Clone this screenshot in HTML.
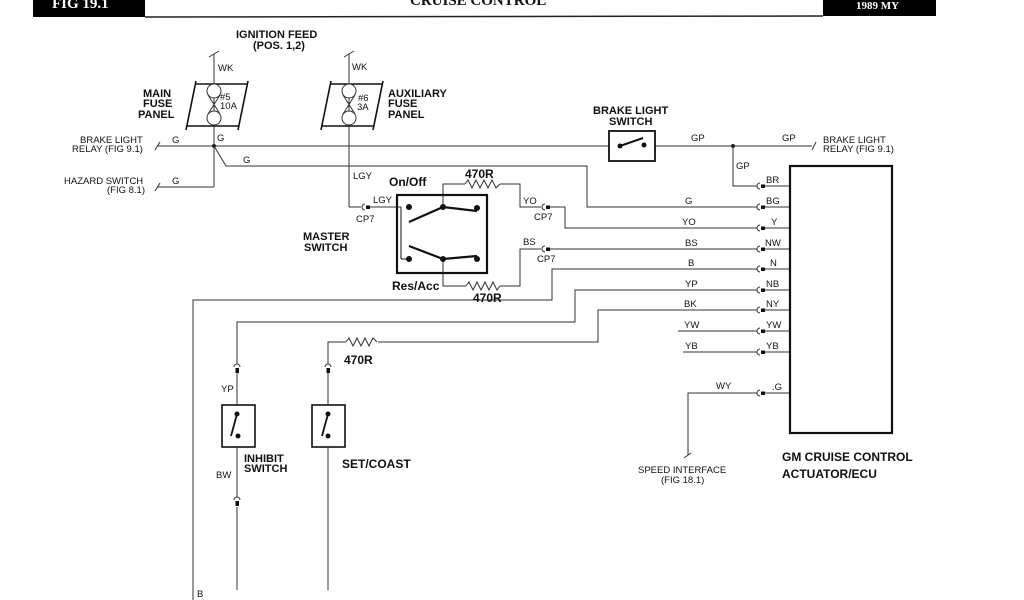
<!DOCTYPE html>
<html><head><meta charset="utf-8"><style>
html,body{margin:0;padding:0;background:#fff;width:1024px;height:600px;overflow:hidden}
svg{display:block}
text{font-family:"Liberation Sans",Arial,sans-serif;fill:#111}
.s{font-size:9.5px}
.b{font-size:11px;font-weight:bold}
.c{font-family:"Liberation Sans",sans-serif;font-weight:bold;font-size:12px}
</style></head><body>
<svg width="1024" height="600" viewBox="0 0 1024 600" xmlns="http://www.w3.org/2000/svg">
<g stroke="#222" fill="none" stroke-width="1.1">
<rect x="33" y="-2" width="112" height="19" fill="#000" stroke="none"/>
<rect x="823" y="-2" width="113" height="18" fill="#000" stroke="none"/>
<line x1="145" y1="17" x2="823" y2="16" stroke-width="1.5"/>
</g>
<text x="52" y="8" style="fill:#fff;font-size:15px;font-weight:bold;font-family:'Liberation Serif',serif">FIG 19.1</text>
<text x="410" y="5" style="font-size:15px;font-weight:bold;font-family:'Liberation Serif',serif">CRUISE CONTROL</text>
<text x="856" y="9" style="fill:#fff;font-size:11px;font-weight:bold;font-family:'Liberation Serif',serif">1989 MY</text>

<g stroke="#333" fill="none" stroke-width="1">
<line x1="214" y1="54" x2="214" y2="187"/><line x1="209" y1="57" x2="219" y2="51"/>
<line x1="349" y1="54" x2="349" y2="207"/><line x1="344" y1="57" x2="354" y2="51"/>
<g stroke="#111" stroke-width="1.6">
<line x1="195" y1="84" x2="248" y2="84"/><line x1="186" y1="126" x2="239" y2="126"/>
<line x1="196" y1="81" x2="186" y2="130"/><line x1="248" y1="81" x2="238" y2="130"/>
<line x1="330" y1="84" x2="383" y2="84"/><line x1="321" y1="126" x2="374" y2="126"/>
<line x1="331" y1="81" x2="321" y2="130"/><line x1="383" y1="81" x2="373" y2="130"/>
</g>
<circle cx="214" cy="91" r="7" fill="#fff"/><circle cx="214" cy="118" r="7" fill="#fff"/>
<path d="M208 95 L220 114 M220 95 L208 114"/>
<circle cx="349" cy="91" r="7" fill="#fff"/><circle cx="349" cy="118" r="7" fill="#fff"/>
<path d="M343 95 L355 114 M355 95 L343 114"/>
<line x1="157" y1="146" x2="609" y2="146"/><line x1="155" y1="150" x2="160" y2="142"/>
<line x1="655" y1="146" x2="812" y2="146"/><line x1="812" y1="150" x2="816" y2="142"/>
<circle cx="214" cy="146" r="1.6" fill="#111"/><circle cx="733" cy="146" r="1.6" fill="#111"/>
<line x1="157" y1="187" x2="214" y2="187"/><line x1="155" y1="191" x2="160" y2="183"/>
<path d="M214 146 L226 166 L587 166 L587 207 L757 207"/>
<path d="M733 146 L733 186 L757 186"/>
<path d="M349 207 L361 207"/>
<line x1="366" y1="207" x2="401" y2="207"/>
<path d="M443 207 L443 184 L465 184 M500 184 L520 184 L520 207 L541 207"/>
<path d="M549 207 L565 207 L565 228 L757 228"/>
<path d="M443 259 L443 286 L466 286 M500 286 L520 286 L520 249 L541 249"/>
<path d="M549 249 L757 249"/>
<path d="M465 184 l3 -4 l4 8 l4 -8 l4 8 l4 -8 l4 8 l4 -8 l4 8 l4 -4"/>
<path d="M466 286 l3 -4 l4 8 l4 -8 l4 8 l4 -8 l4 8 l4 -8 l4 8 l3 -4"/>
<path d="M757 269 L552 269 L552 300 L193 300 L193 600"/>
<path d="M757 290 L575 290 L575 322 L237 322 L237 364"/>
<path d="M237 372 L237 405 M237 447 L237 497 M237 507 L237 590"/>
<path d="M757 310 L598 310 L598 342 L378 342 M346 342 L328 342 L328 364"/>
<path d="M346 342 l3 -4 l4 8 l4 -8 l4 8 l4 -8 l4 8 l4 -8 l4 4"/>
<path d="M328 372 L328 405 M328 447 L328 590"/>
<line x1="678" y1="331" x2="757" y2="331"/><line x1="683" y1="352" x2="757" y2="352"/>
<path d="M757 393 L688 393 L688 455"/><line x1="684" y1="458" x2="691" y2="453"/>
<g>
<line x1="763" y1="186" x2="790" y2="186"/><line x1="763" y1="207" x2="790" y2="207"/>
<line x1="763" y1="228" x2="790" y2="228"/><line x1="763" y1="249" x2="790" y2="249"/>
<line x1="763" y1="269" x2="790" y2="269"/><line x1="763" y1="290" x2="790" y2="290"/>
<line x1="763" y1="310" x2="790" y2="310"/><line x1="763" y1="331" x2="790" y2="331"/>
<line x1="763" y1="352" x2="790" y2="352"/><line x1="763" y1="393" x2="790" y2="393"/>
</g>
<g stroke-width="1">
<path d="M760 183 a3 3 0 0 0 0 6"/><path d="M760 204 a3 3 0 0 0 0 6"/><path d="M760 225 a3 3 0 0 0 0 6"/>
<path d="M760 246 a3 3 0 0 0 0 6"/><path d="M760 266 a3 3 0 0 0 0 6"/><path d="M760 287 a3 3 0 0 0 0 6"/>
<path d="M760 307 a3 3 0 0 0 0 6"/><path d="M760 328 a3 3 0 0 0 0 6"/><path d="M760 349 a3 3 0 0 0 0 6"/>
<path d="M760 390 a3 3 0 0 0 0 6"/>
<path d="M365 204 a3 3 0 0 0 0 6"/><path d="M545 204 a3 3 0 0 0 0 6"/><path d="M545 246 a3 3 0 0 0 0 6"/>
<path d="M234 367 a3 3 0 0 1 6 0"/><path d="M234 500 a3 3 0 0 1 6 0"/><path d="M325 367 a3 3 0 0 1 6 0"/>
</g>
</g>
<g fill="#111">
<rect x="761" y="184.5" width="4" height="3.5"/><rect x="761" y="205.5" width="4" height="3.5"/><rect x="761" y="226.5" width="4" height="3.5"/>
<rect x="761" y="247.5" width="4" height="3.5"/><rect x="761" y="267.5" width="4" height="3.5"/><rect x="761" y="288.5" width="4" height="3.5"/>
<rect x="761" y="308.5" width="4" height="3.5"/><rect x="761" y="329.5" width="4" height="3.5"/><rect x="761" y="350.5" width="4" height="3.5"/>
<rect x="761" y="391.5" width="4" height="3.5"/>
<rect x="366" y="205.5" width="4" height="3.5"/><rect x="546" y="205.5" width="4" height="3.5"/><rect x="546" y="247.5" width="4" height="3.5"/>
<rect x="235.5" y="368" width="3.5" height="5"/><rect x="235.5" y="501" width="3.5" height="5"/><rect x="326.5" y="368" width="3.5" height="5"/>
</g>
<g stroke="#111" fill="none">
<rect x="609" y="131" width="46" height="30" stroke-width="1.8"/>
<line x1="620" y1="146" x2="643" y2="138" stroke-width="2"/>
</g>
<circle cx="620" cy="146" r="2.5" fill="#111"/><circle cx="644" cy="145" r="2.5" fill="#111"/>
<g stroke="#111" fill="none">
<rect x="397" y="195" width="90" height="78" stroke-width="2.2"/>
<line x1="401" y1="207" x2="401" y2="259" stroke-width="1"/>
<line x1="401" y1="259" x2="409" y2="259" stroke-width="1"/>
<path d="M409 222 L443 207 L477 211" stroke-width="2.2"/>
<path d="M409 246 L443 259 L477 256" stroke-width="2.2"/>
</g>
<g fill="#111">
<circle cx="409" cy="207" r="3"/><circle cx="443" cy="207" r="3"/><circle cx="477" cy="208" r="3"/>
<circle cx="409" cy="259" r="3"/><circle cx="443" cy="259" r="3"/><circle cx="477" cy="259" r="3"/>
</g>
<g stroke="#111" fill="none">
<rect x="222" y="405" width="33" height="42" stroke-width="1.6"/>
<rect x="312" y="405" width="33" height="42" stroke-width="1.6"/>
<line x1="237" y1="414" x2="231" y2="436" stroke-width="1.8"/>
<line x1="328" y1="414" x2="322" y2="436" stroke-width="1.8"/>
<rect x="790" y="166" width="102" height="267" stroke-width="2.2"/>
</g>
<g fill="#111">
<circle cx="237" cy="414" r="2.5"/><circle cx="238" cy="436" r="2.5"/>
<circle cx="328" cy="414" r="2.5"/><circle cx="328" cy="436" r="2.5"/>
</g>

<text class="b" x="236" y="38">IGNITION FEED</text>
<text class="b" x="253" y="49">(POS. 1,2)</text>
<text class="s" x="218" y="71">WK</text><text class="s" x="352" y="70">WK</text>
<text class="b" x="143" y="97">MAIN</text><text class="b" x="143" y="107">FUSE</text><text class="b" x="138" y="118">PANEL</text>
<text class="b" x="388" y="97">AUXILIARY</text><text class="b" x="388" y="107">FUSE</text><text class="b" x="388" y="118">PANEL</text>
<text class="s" x="220" y="100">#5</text><text class="s" x="220" y="109">10A</text>
<text class="s" x="358" y="101">#6</text><text class="s" x="357" y="110">3A</text>
<text class="s" x="80" y="143">BRAKE LIGHT</text><text class="s" x="72" y="152">RELAY (FIG 9.1)</text>
<text class="s" x="172" y="143">G</text><text class="s" x="217" y="141">G</text><text class="s" x="243" y="163">G</text>
<text class="s" x="64" y="184">HAZARD SWITCH</text><text class="s" x="107" y="193">(FIG 8.1)</text>
<text class="s" x="172" y="184">G</text>
<text class="b" x="593" y="114">BRAKE LIGHT</text><text class="b" x="609" y="125">SWITCH</text>
<text class="s" x="691" y="141">GP</text><text class="s" x="782" y="141">GP</text>
<text class="s" x="823" y="143">BRAKE LIGHT</text><text class="s" x="823" y="152">RELAY (FIG 9.1)</text>
<text class="s" x="736" y="169">GP</text>
<text class="s" x="353" y="179">LGY</text><text class="s" x="373" y="203">LGY</text>
<text class="s" x="356" y="222">CP7</text>
<text class="c" x="389" y="186">On/Off</text>
<text class="c" x="465" y="178">470R</text>
<text class="c" x="392" y="290">Res/Acc</text>
<text class="c" x="473" y="302">470R</text>
<text class="b" x="303" y="240">MASTER</text><text class="b" x="304" y="251">SWITCH</text>
<text class="s" x="523" y="204">YO</text><text class="s" x="534" y="220">CP7</text>
<text class="s" x="523" y="245">BS</text><text class="s" x="537" y="262">CP7</text>
<text class="s" x="685" y="204">G</text><text class="s" x="682" y="225">YO</text><text class="s" x="685" y="246">BS</text>
<text class="s" x="688" y="266">B</text><text class="s" x="685" y="287">YP</text><text class="s" x="684" y="307">BK</text>
<text class="s" x="684" y="328">YW</text><text class="s" x="685" y="349">YB</text><text class="s" x="716" y="389">WY</text>
<text class="s" x="766" y="183">BR</text><text class="s" x="766" y="204">BG</text><text class="s" x="771" y="225">Y</text>
<text class="s" x="765" y="246">NW</text><text class="s" x="770" y="266">N</text><text class="s" x="766" y="287">NB</text>
<text class="s" x="766" y="307">NY</text><text class="s" x="766" y="328">YW</text><text class="s" x="766" y="349">YB</text>
<text class="s" x="772" y="390">.G</text>
<text class="c" x="344" y="364">470R</text>
<text class="s" x="221" y="392">YP</text><text class="s" x="216" y="478">BW</text>
<text class="b" x="244" y="462">INHIBIT</text><text class="b" x="244" y="472">SWITCH</text>
<text class="c" x="342" y="468">SET/COAST</text>
<text class="s" x="638" y="473">SPEED INTERFACE</text><text class="s" x="661" y="483">(FIG 18.1)</text>
<text class="c" x="782" y="461">GM CRUISE CONTROL</text>
<text class="c" x="782" y="478">ACTUATOR/ECU</text>
<text class="s" x="197" y="597">B</text>
</svg>
</body></html>
